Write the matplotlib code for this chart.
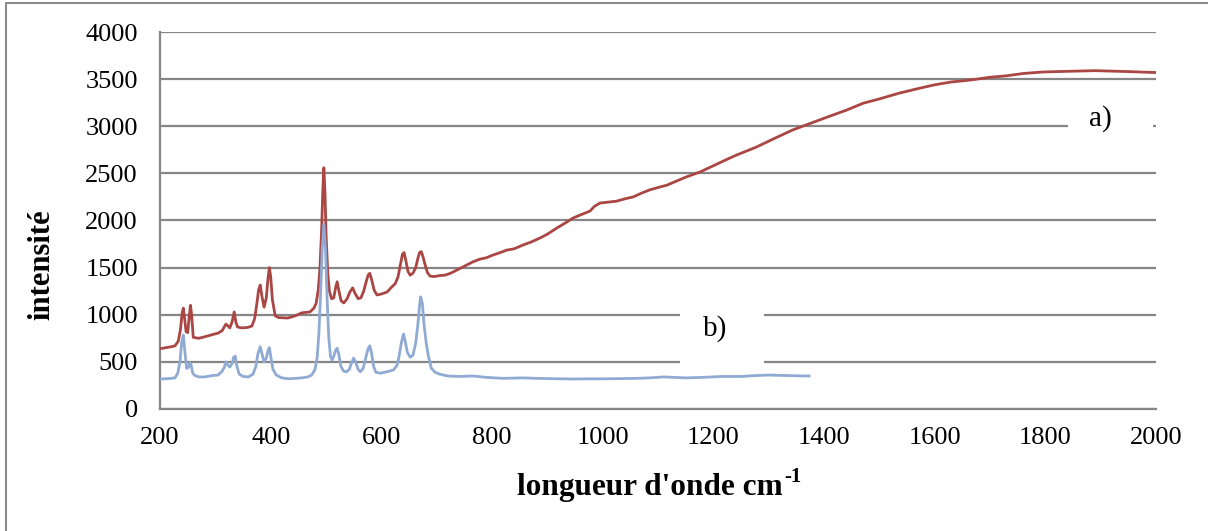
import matplotlib
matplotlib.use("Agg")
import matplotlib.pyplot as plt
from matplotlib.lines import Line2D
from matplotlib.patches import Rectangle

plt.rcParams['font.family'] = 'Liberation Serif'

# spectrum a) (upper, red)
wave_a = [200, 210, 220, 227, 233, 237, 240, 242, 244, 247, 250, 253, 255, 257, 260,
          270, 280, 295, 305, 312, 316, 319, 323, 326, 330, 334, 337, 340, 348, 358,
          366, 371, 375, 378, 381, 384, 388, 392, 395, 397.5, 400, 403, 408, 414, 431,
          445, 456, 471, 478, 482, 486, 489, 492, 494, 496, 498, 500, 503, 506, 510,
          514, 517, 520, 523, 527, 532, 538, 543, 548, 553, 558, 563, 568, 572, 576,
          579, 582, 587, 592, 600, 610, 618, 625, 630, 635, 638, 641, 644, 648, 652,
          657, 662, 666, 669, 672, 675, 679, 683, 688, 695, 705, 715, 725, 735, 745,
          755, 765, 778, 790, 800, 815, 826, 840, 856, 870, 887, 900, 917, 930, 946,
          960, 977, 985, 995, 1010, 1025, 1040, 1055, 1070, 1085, 1100, 1116, 1130,
          1150, 1176, 1214, 1240, 1278, 1310, 1343, 1375, 1407, 1440, 1471, 1500,
          1535, 1570, 1600, 1630, 1664, 1700, 1729, 1760, 1793, 1820, 1857, 1890,
          1921, 1950, 1975, 2000]
int_a = [640, 650, 660, 670, 720, 850, 1020, 1070, 980, 820, 810, 1000, 1100, 1000, 760,
         750, 765, 790, 805, 830, 870, 900, 880, 860, 920, 1030, 920, 870, 860, 865,
         880, 960, 1120, 1260, 1315, 1200, 1080, 1180, 1380, 1500, 1400, 1160, 990, 970, 965,
         990, 1020, 1030, 1070, 1120, 1270, 1500, 1900, 2300, 2560, 2300, 1850, 1450, 1250, 1170,
         1180, 1280, 1350, 1260, 1150, 1125, 1170, 1240, 1285, 1220, 1170, 1180, 1250, 1340, 1420,
         1440, 1380, 1260, 1210, 1220, 1240, 1290, 1330, 1400, 1550, 1640, 1660, 1580, 1460, 1420,
         1440, 1500, 1600, 1660, 1670, 1620, 1530, 1450, 1410, 1405, 1415, 1420, 1440, 1470, 1500,
         1530, 1560, 1590, 1605, 1630, 1660, 1685, 1700, 1740, 1770, 1815, 1855, 1920, 1965, 2025,
         2060, 2100, 2150, 2185, 2195, 2205, 2230, 2250, 2290, 2325, 2350, 2375, 2410,
         2460, 2515, 2620, 2690, 2780, 2870, 2960, 3030, 3100, 3170, 3245, 3290,
         3350, 3400, 3440, 3470, 3490, 3520, 3535, 3560, 3575, 3580, 3585, 3590,
         3585, 3580, 3575, 3570]

# spectrum b) (lower, blue)
wave_b = [200, 215, 227, 232, 236, 239, 242, 245, 248, 251, 254, 256, 259, 263, 270,
          281, 295, 305, 312, 316, 319, 322, 326, 330, 333, 336, 339, 343, 350, 360,
          368, 373, 377, 381, 384, 388, 392, 395, 397.5, 400, 404, 410, 420, 432, 445,
          456, 467, 474, 480, 484, 487, 490, 493, 496, 499, 502, 505, 508, 511, 514,
          517, 520, 523, 527, 532, 537, 542, 546, 550, 554, 558, 562, 567, 572, 576,
          579, 582, 586, 590, 598, 610, 622, 628, 632, 636, 640, 643, 647, 652, 657,
          662, 666, 669, 671, 674, 677, 681, 685, 690, 697, 705, 720, 740, 766, 790,
          820, 856, 880, 920, 950, 977, 1000, 1030, 1060, 1085, 1110, 1130, 1150, 1180,
          1214, 1250, 1278, 1300, 1330, 1350, 1373]
int_b = [318, 322, 330, 380, 500, 700, 785, 600, 430, 440, 490, 470, 380, 355, 340,
         340, 355, 360, 400, 440, 500, 470, 445, 480, 550, 560, 450, 370, 345, 340,
         370, 450, 590, 660, 590, 500, 540, 620, 650, 560, 420, 360, 330, 320, 325,
         330, 340, 360, 420, 550, 800, 1200, 1700, 1960, 1700, 1150, 750, 560, 520, 560,
         620, 645, 580, 450, 400, 395, 420, 490, 540, 490, 420, 395, 430, 550, 640,
         670, 600, 450, 390, 380, 395, 415, 460, 560, 700, 795, 720, 600, 550, 570,
         700, 900, 1100, 1190, 1120, 900, 700, 560, 435, 390, 370, 350, 345, 350, 335,
         325, 330, 325, 320, 318, 320, 320, 322, 325, 330, 340, 335, 330, 335,
         345, 345, 355, 360, 355, 352, 350]

y_ticks = [0, 500, 1000, 1500, 2000, 2500, 3000, 3500, 4000]
x_ticks = [200, 400, 600, 800, 1000, 1200, 1400, 1600, 1800, 2000]

grid_color = '#868686'

fig = plt.figure(figsize=(12.08, 5.31), dpi=100)
ax = fig.add_axes([0.1325, 0.2298, 0.8245, 0.7099])

ax.plot(wave_a, int_a, color='#AA4643', linewidth=2.0, zorder=3)
ax.plot(wave_b, int_b, color='#8FAAD3', linewidth=2.0, zorder=3)

ax.set_xlim(200, 2000)
ax.set_ylim(0, 4000)
ax.set_xticks(x_ticks)
ax.set_yticks(y_ticks)
ax.tick_params(axis='both', length=0, labelsize=19)
ax.tick_params(axis='y', pad=16)
ax.tick_params(axis='x', pad=13)

ax.set_axisbelow(True)
ax.yaxis.grid(True, color=grid_color, linewidth=1.6)
for side in ['top', 'right']:
    ax.spines[side].set_visible(False)
for side in ['left', 'bottom']:
    ax.spines[side].set_color(grid_color)
    ax.spines[side].set_linewidth(1.6)

# series labels, each on a white patch that hides the gridlines behind it
ax.add_patch(Rectangle((1841, 2600), 153, 850, facecolor='white', edgecolor='none', zorder=1))
ax.add_patch(Rectangle((1140, 250), 152, 1050, facecolor='white', edgecolor='none', zorder=1))
ax.text(1900, 3077, 'a)', fontsize=21, ha='center', va='center', zorder=2)
ax.text(1203, 849, 'b)', fontsize=21, ha='center', va='center', zorder=2)

fig.text(42 / 1208, 1 - 265 / 531, 'intensité', rotation=90, fontsize=22,
         fontweight='bold', ha='center', va='center')
xlab = fig.text(650 / 1208, 1 - 488 / 531, "longueur d'onde cm", fontsize=22.5,
                fontweight='bold', ha='center', va='center')
fig.canvas.draw()
bb = xlab.get_window_extent()
fig.text((bb.x1 + 1) / 1208, 1 - 477 / 531, '-1', fontsize=15,
         fontweight='bold', ha='left', va='center')

# outer frame (left and top edges visible)
fig.add_artist(Line2D([6 / 1208, 6 / 1208, 1], [0, 1 - 3 / 531, 1 - 3 / 531],
                      transform=fig.transFigure, color='#8c8c8c', linewidth=1.5))

fig.savefig('out.png', dpi=100)
